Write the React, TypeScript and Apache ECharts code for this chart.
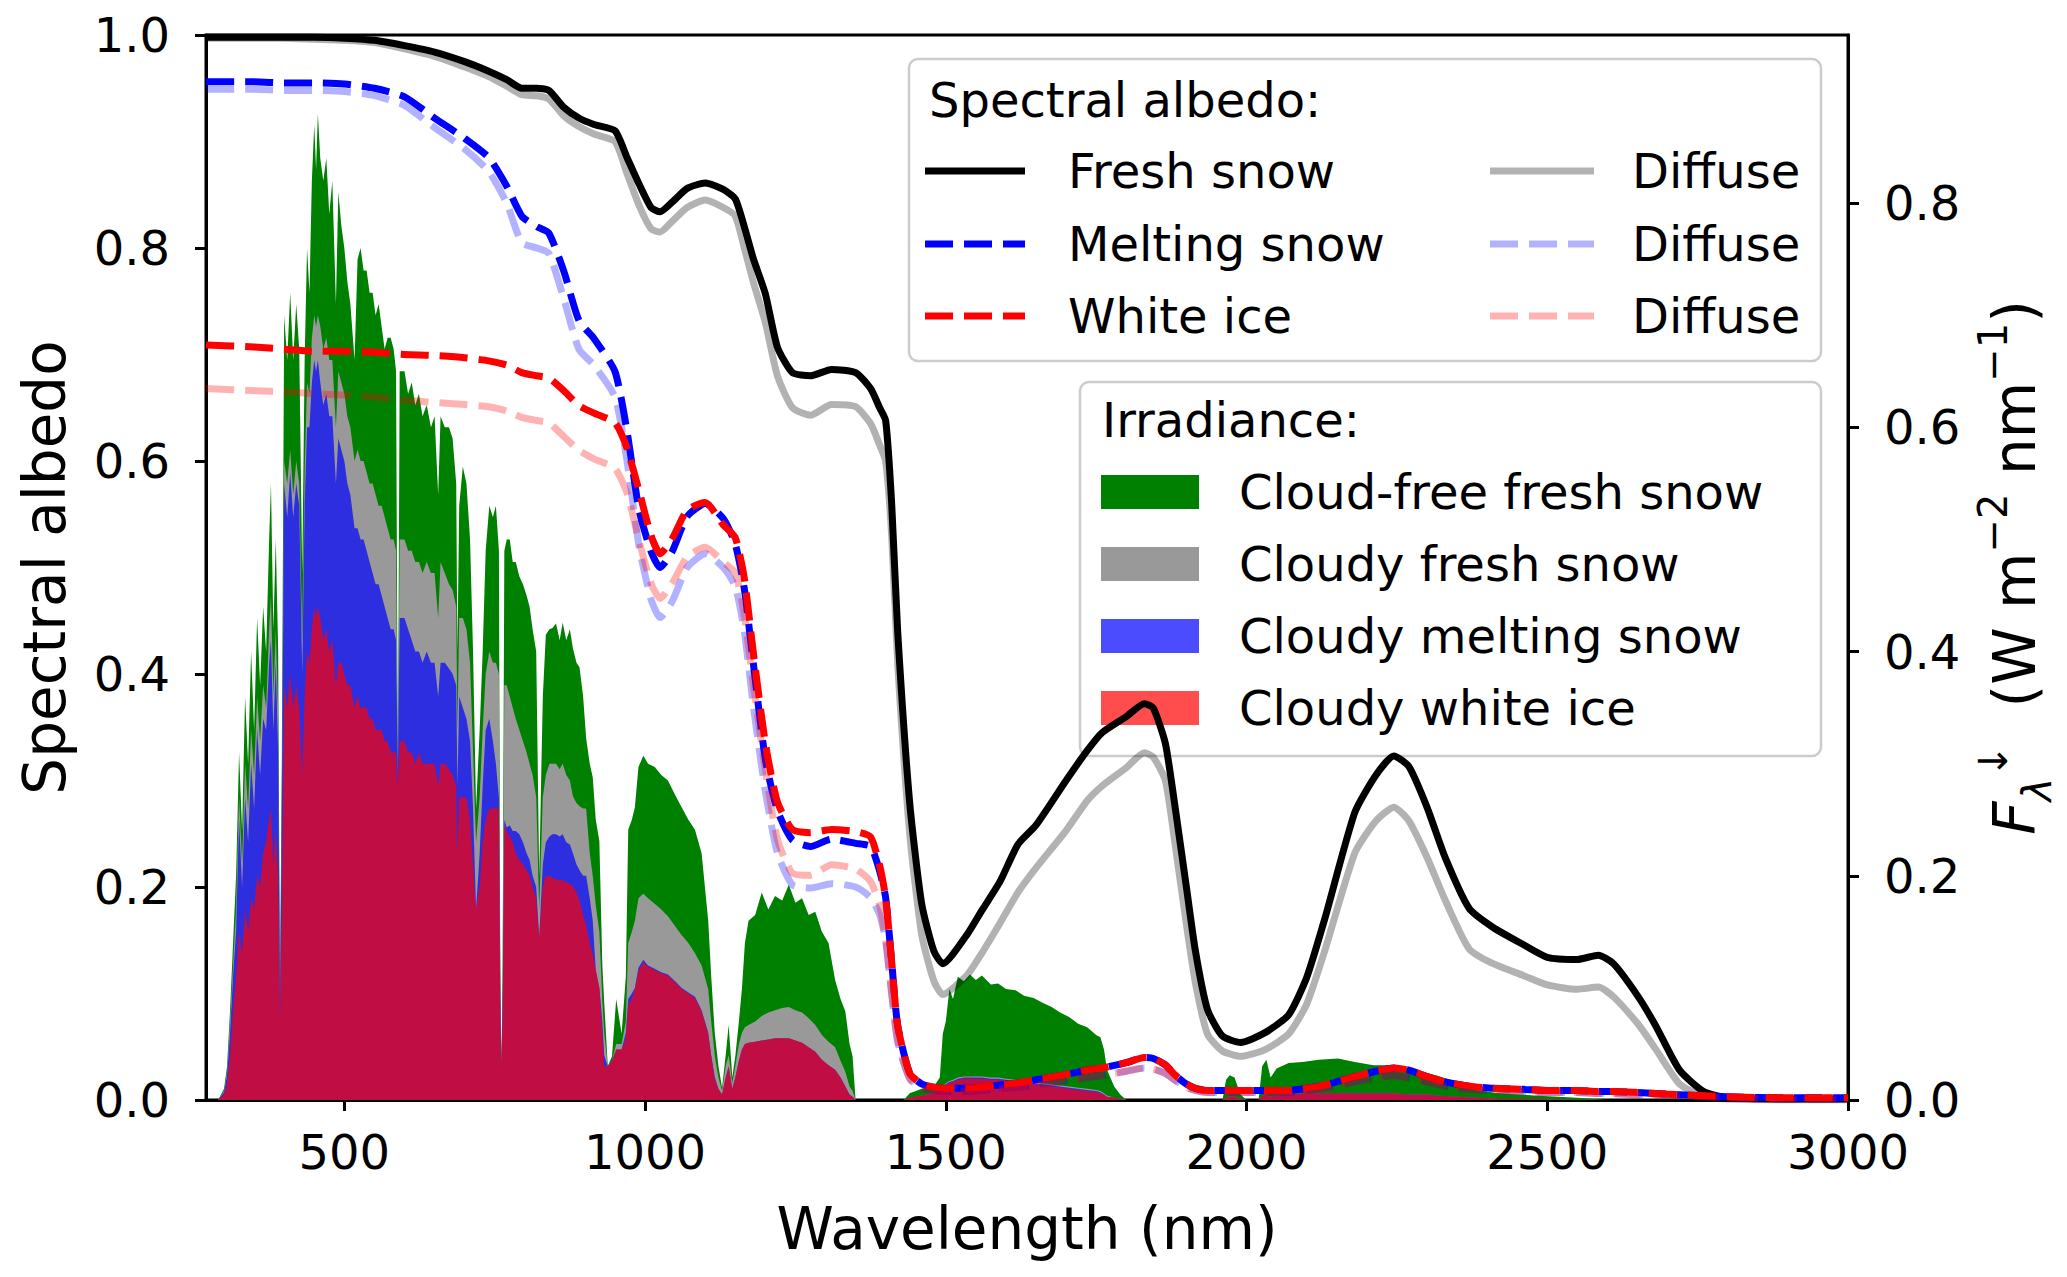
import React, { useEffect, useRef } from 'react';
import * as echarts from 'echarts';

const FONT = '"DejaVu Sans", sans-serif';

// ---- spectral albedo (left axis) ----
const albWl = [
  270, 350, 400, 450, 500, 550, 600, 650, 700, 740,
  770, 795, 820, 840, 865, 890, 915, 950, 970, 990,
  1010, 1025, 1045, 1070, 1100, 1130, 1150, 1165, 1180, 1200,
  1220, 1245, 1275, 1310, 1350, 1375, 1390, 1400, 1410, 1420,
  1440, 1460, 1480, 1495, 1535, 1560, 1590, 1620, 1650, 1700,
  1735, 1760, 1800, 1830, 1845, 1865, 1880, 1900, 1915, 1935,
  1960, 1990, 2030, 2070, 2100, 2130, 2180, 2215, 2245, 2270,
  2300, 2330, 2370, 2410, 2460, 2500, 2550, 2585, 2610, 2650,
  2680, 2720, 2760, 2800, 2900, 3000,
];
const freshSnow = [
  0.998, 0.998, 0.998, 0.998, 0.997, 0.995, 0.99, 0.984, 0.975, 0.966,
  0.958, 0.95, 0.95, 0.948, 0.932, 0.922, 0.916, 0.91, 0.885, 0.86,
  0.838, 0.834, 0.843, 0.856, 0.861, 0.855, 0.846, 0.82, 0.79, 0.757,
  0.707, 0.683, 0.68, 0.686, 0.683, 0.668, 0.65, 0.638, 0.56, 0.44,
  0.279, 0.184, 0.14, 0.128, 0.155, 0.178, 0.205, 0.24, 0.258, 0.3,
  0.328, 0.345, 0.36, 0.372, 0.368, 0.335, 0.28, 0.2, 0.14, 0.085,
  0.06, 0.054, 0.063, 0.08, 0.115, 0.17, 0.27, 0.305, 0.323, 0.313,
  0.275, 0.228, 0.18, 0.162, 0.146, 0.134, 0.132, 0.136, 0.128, 0.098,
  0.07, 0.028, 0.008, 0.002, 0.001, 0.001,
];
const freshSnowDiffuse = [
  0.997, 0.997, 0.997, 0.996, 0.995, 0.993, 0.987, 0.98, 0.97, 0.961,
  0.952, 0.944, 0.943, 0.94, 0.924, 0.914, 0.907, 0.9, 0.87, 0.84,
  0.818, 0.815, 0.825, 0.838, 0.845, 0.838, 0.83, 0.8, 0.768, 0.73,
  0.68, 0.65, 0.643, 0.653, 0.651, 0.635, 0.615, 0.6, 0.53, 0.41,
  0.25, 0.155, 0.112, 0.099, 0.117, 0.138, 0.166, 0.195, 0.218, 0.253,
  0.281, 0.295, 0.312, 0.326, 0.322, 0.3, 0.245, 0.165, 0.11, 0.062,
  0.046, 0.041, 0.047, 0.062, 0.09, 0.14, 0.232, 0.262, 0.275, 0.262,
  0.228, 0.188, 0.142, 0.128, 0.117, 0.108, 0.104, 0.106, 0.097, 0.072,
  0.048, 0.015, 0.003, 0.001, 0, 0,
];
const meltingSnow = [
  0.956, 0.956, 0.955, 0.955, 0.954, 0.95, 0.942, 0.922, 0.903, 0.885,
  0.858, 0.83, 0.82, 0.814, 0.778, 0.732, 0.715, 0.684, 0.628, 0.554,
  0.515, 0.5, 0.515, 0.548, 0.56, 0.546, 0.522, 0.48, 0.41, 0.32,
  0.272, 0.244, 0.238, 0.245, 0.241, 0.238, 0.215, 0.19, 0.13, 0.07,
  0.025, 0.015, 0.012, 0.011, 0.011, 0.012, 0.014, 0.016, 0.019, 0.024,
  0.028, 0.03, 0.035, 0.04, 0.039, 0.033, 0.024, 0.015, 0.011, 0.009,
  0.009, 0.009, 0.009, 0.009, 0.011, 0.014, 0.022, 0.027, 0.03, 0.028,
  0.022, 0.017, 0.013, 0.011, 0.01, 0.009, 0.009, 0.008, 0.008, 0.007,
  0.006, 0.005, 0.004, 0.003, 0.002, 0.002,
];
const meltingSnowDiffuse = [
  0.949, 0.949, 0.948, 0.948, 0.947, 0.943, 0.934, 0.913, 0.893, 0.872,
  0.842, 0.805, 0.8, 0.795, 0.752, 0.705, 0.69, 0.66, 0.6, 0.52,
  0.47, 0.453, 0.468, 0.5, 0.513, 0.5, 0.482, 0.44, 0.37, 0.29,
  0.232, 0.202, 0.199, 0.203, 0.2, 0.19, 0.174, 0.15, 0.1, 0.055,
  0.02, 0.011, 0.009, 0.008, 0.008, 0.009, 0.011, 0.012, 0.014, 0.018,
  0.021, 0.023, 0.027, 0.03, 0.029, 0.025, 0.019, 0.012, 0.009, 0.007,
  0.007, 0.007, 0.007, 0.007, 0.009, 0.011, 0.017, 0.021, 0.023, 0.021,
  0.017, 0.013, 0.01, 0.009, 0.008, 0.007, 0.007, 0.006, 0.006, 0.005,
  0.005, 0.004, 0.003, 0.002, 0.001, 0.001,
];
const whiteIce = [
  0.709, 0.707, 0.705, 0.703, 0.703, 0.702, 0.7, 0.699, 0.697, 0.694,
  0.69, 0.683, 0.68, 0.678, 0.666, 0.652, 0.645, 0.636, 0.612, 0.572,
  0.53, 0.513, 0.527, 0.554, 0.561, 0.54, 0.528, 0.49, 0.42, 0.335,
  0.28, 0.254, 0.251, 0.254, 0.252, 0.247, 0.22, 0.19, 0.13, 0.07,
  0.025, 0.015, 0.012, 0.011, 0.011, 0.012, 0.014, 0.016, 0.019, 0.024,
  0.028, 0.03, 0.035, 0.04, 0.039, 0.033, 0.024, 0.015, 0.011, 0.009,
  0.009, 0.009, 0.009, 0.009, 0.011, 0.014, 0.022, 0.027, 0.03, 0.028,
  0.022, 0.017, 0.013, 0.011, 0.01, 0.009, 0.009, 0.008, 0.008, 0.007,
  0.006, 0.005, 0.004, 0.003, 0.002, 0.002,
];
const whiteIceDiffuse = [
  0.668, 0.666, 0.665, 0.663, 0.662, 0.66, 0.657, 0.655, 0.653, 0.651,
  0.647, 0.641, 0.638, 0.636, 0.623, 0.61, 0.602, 0.593, 0.57, 0.525,
  0.485, 0.471, 0.485, 0.51, 0.519, 0.505, 0.495, 0.455, 0.39, 0.31,
  0.245, 0.213, 0.211, 0.221, 0.217, 0.205, 0.183, 0.15, 0.1, 0.055,
  0.02, 0.011, 0.009, 0.008, 0.008, 0.009, 0.011, 0.012, 0.014, 0.018,
  0.021, 0.023, 0.027, 0.03, 0.029, 0.025, 0.019, 0.012, 0.009, 0.007,
  0.007, 0.007, 0.007, 0.007, 0.009, 0.011, 0.017, 0.021, 0.023, 0.021,
  0.017, 0.013, 0.01, 0.009, 0.008, 0.007, 0.007, 0.006, 0.006, 0.005,
  0.005, 0.004, 0.003, 0.002, 0.001, 0.001,
];

// ---- irradiance (right axis, W m-2 nm-1) ----
const irrWl = [
  290, 300, 305, 310, 315, 320, 325, 330, 335, 340,
  345, 350, 355, 360, 365, 370, 375, 378, 382, 386,
  390, 393, 396, 400, 405, 410, 415, 420, 425, 430,
  434, 438, 442, 446, 450, 453, 456, 460, 465, 470,
  475, 480, 486, 490, 495, 500, 505, 510, 517, 522,
  527, 532, 537, 542, 547, 552, 557, 562, 567, 572,
  577, 582, 586, 589, 592, 600, 606, 612, 618, 624,
  630, 637, 644, 650, 656, 660, 667, 674, 680, 686,
  688, 691, 697, 703, 709, 714, 719, 725, 730, 735,
  741, 747, 752, 757, 759, 761, 763, 766, 770, 775,
  780, 785, 791, 797, 803, 808, 813, 819, 824, 830,
  835, 841, 846, 852, 858, 863, 869, 875, 880, 886,
  891, 897, 902, 908, 913, 918, 924, 929, 932, 938,
  945, 952, 961, 968, 972, 978, 983, 989, 997, 1005,
  1016, 1027, 1038, 1050, 1061, 1072, 1083, 1094, 1105, 1110,
  1116, 1122, 1128, 1134, 1139, 1145, 1150, 1156, 1161, 1166,
  1172, 1183, 1194, 1205, 1216, 1228, 1239, 1250, 1261, 1272,
  1283, 1294, 1305, 1316, 1325, 1333, 1340, 1345, 1350, 1430,
  1440, 1460, 1480, 1490, 1495, 1500, 1506, 1512, 1520, 1530,
  1540, 1550, 1560, 1575, 1587, 1600, 1616, 1630, 1646, 1660,
  1676, 1690, 1705, 1720, 1735, 1750, 1757, 1763, 1768, 1780,
  1790, 1800, 1960, 1966, 1972, 1980, 1990, 2000, 2020, 2026,
  2033, 2040, 2050, 2070, 2093, 2120, 2152, 2180, 2211, 2241,
  2270, 2300, 2315, 2350, 2381, 2420, 2478, 2550, 2600, 3000,
];
const cloudFreeFresh = [
  0, 0.01, 0.03, 0.08, 0.14, 0.2, 0.31, 0.24, 0.36, 0.3,
  0.4, 0.33, 0.43, 0.37, 0.44, 0.4, 0.5, 0.55, 0.42, 0.5,
  0.4, 0.1, 0.3, 0.7, 0.66, 0.72, 0.66, 0.71, 0.67, 0.47,
  0.66, 0.76, 0.72, 0.82, 0.87, 0.83, 0.88, 0.84, 0.82, 0.84,
  0.79, 0.82, 0.71, 0.81, 0.78, 0.76, 0.73, 0.71, 0.66, 0.75,
  0.76, 0.74, 0.74, 0.72, 0.72, 0.7, 0.71, 0.69, 0.67, 0.68,
  0.68, 0.67, 0.65, 0.29, 0.65, 0.65, 0.63, 0.64, 0.62, 0.63,
  0.61, 0.62, 0.6, 0.61, 0.54, 0.61, 0.6, 0.6, 0.59, 0.55,
  0.4, 0.53, 0.565, 0.55, 0.5, 0.4, 0.26, 0.33, 0.4, 0.49,
  0.53, 0.52, 0.53, 0.49, 0.15, 0.03, 0.1, 0.49, 0.5, 0.5,
  0.48, 0.48, 0.467, 0.46, 0.45, 0.44, 0.42, 0.4, 0.2, 0.36,
  0.415, 0.42, 0.421, 0.425, 0.41, 0.426, 0.41, 0.42, 0.403, 0.39,
  0.386, 0.36, 0.323, 0.3, 0.288, 0.25, 0.231, 0.12, 0.088, 0.03,
  0.039, 0.09, 0.059, 0.11, 0.241, 0.25, 0.261, 0.297, 0.307, 0.3,
  0.297, 0.29, 0.285, 0.272, 0.261, 0.25, 0.241, 0.22, 0.16, 0.11,
  0.059, 0.03, 0.011, 0.04, 0.067, 0.02, 0.039, 0.07, 0.099, 0.14,
  0.16, 0.165, 0.185, 0.17, 0.182, 0.178, 0.192, 0.176, 0.18, 0.165,
  0.168, 0.15, 0.14, 0.107, 0.09, 0.079, 0.05, 0.039, 0, 0,
  0.006, 0.01, 0.012, 0.02, 0.059, 0.07, 0.099, 0.09, 0.11, 0.106,
  0.112, 0.107, 0.111, 0.103, 0.104, 0.099, 0.098, 0.093, 0.091, 0.087,
  0.083, 0.078, 0.074, 0.068, 0.065, 0.058, 0.056, 0.045, 0.027, 0.012,
  0.005, 0, 0, 0.018, 0.022, 0.02, 0.005, 0, 0, 0.03,
  0.036, 0.02, 0.028, 0.033, 0.034, 0.036, 0.037, 0.034, 0.031, 0.031,
  0.028, 0.024, 0.022, 0.016, 0.009, 0.006, 0.004, 0.002, 0, 0,
];
const cloudyFresh = [
  0, 0.008, 0.025, 0.07, 0.12, 0.17, 0.27, 0.21, 0.3, 0.26,
  0.33, 0.29, 0.36, 0.32, 0.37, 0.35, 0.42, 0.45, 0.36, 0.42,
  0.34, 0.09, 0.27, 0.57, 0.55, 0.58, 0.54, 0.57, 0.55, 0.41,
  0.56, 0.64, 0.63, 0.68, 0.7, 0.69, 0.7, 0.69, 0.67, 0.68,
  0.66, 0.66, 0.6, 0.65, 0.64, 0.63, 0.61, 0.6, 0.57, 0.58,
  0.57, 0.57, 0.56, 0.55, 0.55, 0.54, 0.53, 0.53, 0.52, 0.51,
  0.5, 0.5, 0.49, 0.29, 0.5, 0.5, 0.49, 0.49, 0.48, 0.48,
  0.47, 0.48, 0.47, 0.47, 0.43, 0.48, 0.47, 0.46, 0.455, 0.44,
  0.33, 0.43, 0.43, 0.42, 0.39, 0.31, 0.23, 0.27, 0.33, 0.38,
  0.4, 0.39, 0.39, 0.38, 0.12, 0.03, 0.09, 0.37, 0.37, 0.36,
  0.35, 0.34, 0.33, 0.32, 0.31, 0.3, 0.29, 0.27, 0.17, 0.27,
  0.29, 0.3, 0.3, 0.3, 0.295, 0.3, 0.29, 0.285, 0.271, 0.265,
  0.262, 0.26, 0.26, 0.22, 0.2, 0.174, 0.15, 0.088, 0.06, 0.03,
  0.035, 0.05, 0.05, 0.07, 0.14, 0.15, 0.16, 0.18, 0.184, 0.18,
  0.175, 0.17, 0.164, 0.155, 0.147, 0.14, 0.131, 0.12, 0.099, 0.07,
  0.039, 0.02, 0.008, 0.03, 0.04, 0.015, 0.03, 0.05, 0.06, 0.065,
  0.067, 0.07, 0.075, 0.078, 0.08, 0.082, 0.083, 0.08, 0.078, 0.073,
  0.067, 0.058, 0.052, 0.047, 0.035, 0.025, 0.012, 0.008, 0, 0,
  0.002, 0.004, 0.006, 0.008, 0.012, 0.015, 0.017, 0.018, 0.02, 0.021,
  0.021, 0.021, 0.021, 0.02, 0.02, 0.019, 0.018, 0.017, 0.016, 0.015,
  0.014, 0.013, 0.012, 0.011, 0.01, 0.009, 0.008, 0.006, 0.004, 0.002,
  0.001, 0, 0, 0.002, 0.003, 0.003, 0.001, 0, 0, 0.004,
  0.005, 0.003, 0.004, 0.005, 0.006, 0.006, 0.006, 0.006, 0.006, 0.006,
  0.005, 0.005, 0.004, 0.003, 0.002, 0.001, 0.001, 0, 0, 0,
];
const cloudyMelting = [
  0, 0.007, 0.022, 0.06, 0.11, 0.15, 0.25, 0.19, 0.27, 0.23,
  0.3, 0.26, 0.33, 0.29, 0.34, 0.33, 0.39, 0.41, 0.33, 0.39,
  0.31, 0.085, 0.25, 0.55, 0.52, 0.56, 0.52, 0.55, 0.53, 0.38,
  0.53, 0.6, 0.6, 0.64, 0.66, 0.65, 0.66, 0.64, 0.62, 0.63,
  0.61, 0.61, 0.55, 0.59, 0.58, 0.57, 0.55, 0.54, 0.51, 0.51,
  0.5, 0.5, 0.49, 0.48, 0.47, 0.46, 0.46, 0.45, 0.44, 0.43,
  0.42, 0.42, 0.41, 0.29, 0.43, 0.43, 0.42, 0.41, 0.4, 0.4,
  0.39, 0.4, 0.39, 0.39, 0.36, 0.39, 0.39, 0.385, 0.38, 0.37,
  0.28, 0.36, 0.35, 0.34, 0.32, 0.26, 0.17, 0.22, 0.28, 0.33,
  0.34, 0.32, 0.3, 0.27, 0.1, 0.03, 0.08, 0.25, 0.243, 0.245,
  0.24, 0.24, 0.237, 0.23, 0.22, 0.214, 0.2, 0.19, 0.145, 0.21,
  0.23, 0.235, 0.237, 0.237, 0.235, 0.237, 0.23, 0.228, 0.22, 0.21,
  0.205, 0.2, 0.2, 0.18, 0.16, 0.116, 0.1, 0.07, 0.04, 0.03,
  0.035, 0.045, 0.045, 0.06, 0.09, 0.095, 0.1, 0.118, 0.125, 0.12,
  0.117, 0.114, 0.112, 0.106, 0.1, 0.096, 0.092, 0.08, 0.06, 0.04,
  0.02, 0.01, 0.005, 0.02, 0.03, 0.01, 0.02, 0.035, 0.045, 0.05,
  0.051, 0.052, 0.053, 0.054, 0.055, 0.055, 0.055, 0.053, 0.051, 0.047,
  0.043, 0.036, 0.031, 0.027, 0.02, 0.012, 0.005, 0.003, 0, 0,
  0.002, 0.004, 0.006, 0.008, 0.011, 0.014, 0.016, 0.017, 0.019, 0.02,
  0.02, 0.02, 0.02, 0.019, 0.019, 0.018, 0.017, 0.016, 0.015, 0.014,
  0.013, 0.012, 0.011, 0.01, 0.009, 0.008, 0.007, 0.005, 0.003, 0.002,
  0.001, 0, 0, 0.002, 0.003, 0.003, 0.001, 0, 0, 0.004,
  0.005, 0.003, 0.004, 0.005, 0.006, 0.006, 0.006, 0.006, 0.006, 0.006,
  0.005, 0.005, 0.004, 0.003, 0.002, 0.001, 0.001, 0, 0, 0,
];
const cloudyIce = [
  0, 0.005, 0.015, 0.04, 0.08, 0.11, 0.15, 0.13, 0.17, 0.15,
  0.18, 0.17, 0.2, 0.19, 0.22, 0.23, 0.25, 0.26, 0.21, 0.24,
  0.2, 0.07, 0.17, 0.37, 0.35, 0.38, 0.35, 0.37, 0.35, 0.29,
  0.36, 0.4, 0.39, 0.42, 0.44, 0.43, 0.44, 0.43, 0.41, 0.42,
  0.4, 0.41, 0.37, 0.39, 0.39, 0.38, 0.37, 0.37, 0.35, 0.36,
  0.35, 0.35, 0.35, 0.34, 0.34, 0.33, 0.33, 0.33, 0.32, 0.32,
  0.31, 0.31, 0.31, 0.28, 0.32, 0.32, 0.31, 0.31, 0.3, 0.31,
  0.3, 0.3, 0.3, 0.3, 0.28, 0.3, 0.3, 0.295, 0.29, 0.28,
  0.22, 0.27, 0.27, 0.27, 0.25, 0.21, 0.17, 0.19, 0.23, 0.25,
  0.26, 0.26, 0.26, 0.26, 0.09, 0.03, 0.07, 0.245, 0.24, 0.235,
  0.23, 0.22, 0.214, 0.21, 0.205, 0.2, 0.19, 0.18, 0.145, 0.19,
  0.2, 0.2, 0.198, 0.197, 0.196, 0.196, 0.194, 0.193, 0.191, 0.185,
  0.178, 0.165, 0.156, 0.14, 0.13, 0.116, 0.1, 0.06, 0.03, 0.03,
  0.035, 0.045, 0.045, 0.055, 0.085, 0.09, 0.099, 0.115, 0.123, 0.119,
  0.116, 0.113, 0.111, 0.105, 0.099, 0.095, 0.091, 0.079, 0.059, 0.039,
  0.019, 0.01, 0.005, 0.02, 0.03, 0.01, 0.02, 0.035, 0.045, 0.05,
  0.051, 0.052, 0.053, 0.054, 0.055, 0.055, 0.055, 0.053, 0.051, 0.047,
  0.043, 0.036, 0.031, 0.027, 0.02, 0.012, 0.005, 0.003, 0, 0,
  0.002, 0.004, 0.006, 0.008, 0.011, 0.013, 0.015, 0.016, 0.018, 0.019,
  0.019, 0.019, 0.019, 0.018, 0.018, 0.017, 0.016, 0.015, 0.014, 0.013,
  0.012, 0.011, 0.01, 0.009, 0.008, 0.007, 0.006, 0.005, 0.003, 0.002,
  0.001, 0, 0, 0.002, 0.003, 0.003, 0.001, 0, 0, 0.004,
  0.005, 0.003, 0.004, 0.005, 0.006, 0.006, 0.006, 0.006, 0.006, 0.006,
  0.005, 0.005, 0.004, 0.003, 0.002, 0.001, 0.001, 0, 0, 0,
];

// ---- ticks and labels ----
const xTicks = [500, 1000, 1500, 2000, 2500, 3000];
const rightTicks = [0, 0.2, 0.4, 0.6, 0.8];
const albedoNames = ['Fresh snow', 'Melting snow', 'White ice'];
const irradianceNames = ['Cloud-free fresh snow', 'Cloudy fresh snow', 'Cloudy melting snow', 'Cloudy white ice'];

const zip = (xs: number[], ys: number[]) => xs.map((x, i) => [x, ys[i]]);

const App: React.FC = () => {
  const chartRef = useRef<HTMLDivElement>(null);

  useEffect(() => {
    document.body.style.margin = '0';
    if (!chartRef.current) return;
    const chart = echarts.init(chartRef.current, null, { renderer: 'svg' });

    const LW = 7;
    const DASH = [28, 11];
    const lineColors = ['#000000', '#0000ff', '#ff0000'];
    const diffuseColors = ['rgba(0,0,0,0.3)', 'rgba(0,0,255,0.3)', 'rgba(255,0,0,0.3)'];
    const dashes: any[] = ['solid', DASH, DASH];
    const direct = [freshSnow, meltingSnow, whiteIce];
    const diffuse = [freshSnowDiffuse, meltingSnowDiffuse, whiteIceDiffuse];
    const fillColors = ['#008000', '#999999', 'rgba(0,0,255,0.7)', 'rgba(255,0,0,0.7)'];
    const fills = [cloudFreeFresh, cloudyFresh, cloudyMelting, cloudyIce];

    // irradiance drawn as filled areas from zero, each over the previous one
    const areaSeries = fills.map((vals, i) => ({
      name: irradianceNames[i],
      type: 'line',
      yAxisIndex: 1,
      data: zip(irrWl, vals),
      symbol: 'none',
      silent: true,
      lineStyle: { width: 0, opacity: 0 },
      itemStyle: { color: fillColors[i] },
      areaStyle: { color: fillColors[i], opacity: 1 },
      z: 2,
    }));

    const albedoSeries: any[] = [];
    direct.forEach((vals, i) => {
      albedoSeries.push({
        name: albedoNames[i] + ' diffuse',
        type: 'line',
        data: zip(albWl, diffuse[i]),
        symbol: 'none',
        smooth: 0.2,
        silent: true,
        itemStyle: { color: diffuseColors[i] },
        lineStyle: { color: diffuseColors[i], width: LW, type: dashes[i], join: 'round' },
        z: 3,
      });
      albedoSeries.push({
        name: albedoNames[i],
        type: 'line',
        data: zip(albWl, vals),
        symbol: 'none',
        smooth: 0.2,
        silent: true,
        itemStyle: { color: lineColors[i] },
        lineStyle: { color: lineColors[i], width: LW, type: dashes[i], join: 'round' },
        z: 3,
      });
    });

    const label = (text: string, x: number, y: number) => ({
      type: 'text',
      x,
      y,
      style: { text, fontSize: 48, fontFamily: FONT, fill: '#000', align: 'left', verticalAlign: 'middle' },
    });

    // legend boxes
    const rowY1 = [171, 244, 316];
    const rowY2 = [492, 564, 636, 708];
    const legendEls: any[] = [
      {
        type: 'rect',
        shape: { x: 909, y: 59, width: 912, height: 302, r: 9 },
        style: { fill: 'rgba(255,255,255,0.8)', stroke: '#cccccc', lineWidth: 2.5 },
      },
      label('Spectral albedo:', 929, 100),
      {
        type: 'rect',
        shape: { x: 1080, y: 382, width: 741, height: 374, r: 9 },
        style: { fill: 'rgba(255,255,255,0.8)', stroke: '#cccccc', lineWidth: 2.5 },
      },
      label('Irradiance:', 1102, 420),
    ];
    albedoNames.forEach((n, i) => {
      const dash = i === 0 ? null : DASH;
      legendEls.push({
        type: 'line',
        shape: { x1: 925, y1: rowY1[i], x2: 1025, y2: rowY1[i] },
        style: { stroke: lineColors[i], lineWidth: LW, lineDash: dash },
      });
      legendEls.push(label(n, 1068, rowY1[i]));
      legendEls.push({
        type: 'line',
        shape: { x1: 1490, y1: rowY1[i], x2: 1594, y2: rowY1[i] },
        style: { stroke: diffuseColors[i], lineWidth: LW, lineDash: dash },
      });
      legendEls.push(label('Diffuse', 1632, rowY1[i]));
    });
    irradianceNames.forEach((n, i) => {
      legendEls.push({
        type: 'rect',
        shape: { x: 1101, y: rowY2[i] - 17, width: 98, height: 34 },
        style: { fill: fillColors[i] },
      });
      legendEls.push(label(n, 1239, rowY2[i]));
    });

    const tickLabel = { fontSize: 48, fontFamily: FONT, color: '#000' };

    const option: any = {
      animation: false,
      backgroundColor: '#ffffff',
      textStyle: { fontFamily: FONT },
      grid: {
        left: 206,
        top: 35,
        width: 1642,
        height: 1065,
        show: true,
        borderColor: '#000',
        borderWidth: 3,
        backgroundColor: 'transparent',
      },
      xAxis: {
        type: 'value',
        min: 270,
        max: 3000,
        name: 'Wavelength (nm)',
        nameLocation: 'middle',
        nameGap: 100,
        nameTextStyle: { fontSize: 58, fontFamily: FONT, color: '#000' },
        axisLine: { show: true, lineStyle: { color: '#000', width: 3 } },
        axisTick: { show: true, customValues: xTicks, length: 11, lineStyle: { color: '#000', width: 3 } },
        axisLabel: { ...tickLabel, customValues: xTicks, margin: 28, formatter: (v: number) => String(v) },
        splitLine: { show: false },
      },
      yAxis: [
        {
          type: 'value',
          min: 0,
          max: 1,
          interval: 0.2,
          position: 'left',
          name: 'Spectral albedo',
          nameLocation: 'middle',
          nameRotate: 90,
          nameGap: 132,
          nameTextStyle: { fontSize: 58, fontFamily: FONT, color: '#000' },
          axisLine: { show: true, lineStyle: { color: '#000', width: 3 } },
          axisTick: { show: true, length: 11, lineStyle: { color: '#000', width: 3 } },
          axisLabel: { ...tickLabel, margin: 36, formatter: (v: number) => v.toFixed(1) },
          splitLine: { show: false },
        },
        {
          type: 'value',
          min: 0,
          max: 0.95,
          position: 'right',
          name: '{it|F}{sub|λ}{sup|↓}{n|  (W m}{sup|−2}{n| nm}{sup|−1}{n|)}',
          nameLocation: 'middle',
          nameRotate: 90,
          nameGap: 125,
          nameTextStyle: {
            fontSize: 58,
            fontFamily: FONT,
            color: '#000',
            rich: {
              it: { fontSize: 58, fontFamily: FONT, fontStyle: 'italic', lineHeight: 84, color: '#000' },
              n: { fontSize: 58, fontFamily: FONT, lineHeight: 84, color: '#000' },
              sub: { fontSize: 40, fontFamily: FONT, fontStyle: 'italic', lineHeight: 40, verticalAlign: 'bottom', color: '#000' },
              sup: { fontSize: 40, fontFamily: FONT, lineHeight: 40, verticalAlign: 'top', color: '#000' },
            },
          },
          axisLine: { show: true, lineStyle: { color: '#000', width: 3 } },
          axisTick: { show: true, customValues: rightTicks, length: 11, lineStyle: { color: '#000', width: 3 } },
          axisLabel: { ...tickLabel, customValues: rightTicks, margin: 36, formatter: (v: number) => v.toFixed(1) },
          splitLine: { show: false },
        },
      ],
      graphic: { elements: legendEls },
      series: [...areaSeries, ...albedoSeries],
    };

    chart.setOption(option);

    return () => {
      chart.dispose();
    };
  }, []);

  return <div ref={chartRef} style={{ width: '2067px', height: '1277px' }} />;
};

export default App;
